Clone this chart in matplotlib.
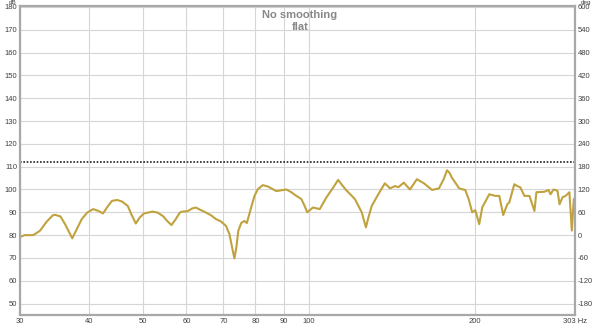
import numpy as np
import matplotlib
matplotlib.use("Agg")
from matplotlib import pyplot as plt

plt.rcParams["axes.unicode_minus"] = False
plt.rcParams["font.family"] = ["Liberation Sans", "DejaVu Sans"]

# Frequency response (Hz, dB)
freq_hz = [30.0, 30.6, 31.7, 32.6, 33.5, 34.4, 34.7, 35.5, 36.2, 37.3,
           38.0, 38.8, 39.7, 40.7, 41.6, 42.4, 43.1, 44.0, 45.0, 45.9,
           47.0, 47.7, 48.6, 49.4, 50.3, 52.1, 53.2, 54.4, 55.4, 56.4,
           57.4, 58.4, 59.0, 60.3, 61.5, 62.4, 63.7, 65.1, 66.5, 67.9,
           69.3, 70.8, 71.8, 72.6, 73.3, 73.9, 74.5, 75.4, 76.4, 77.2,
           78.6, 79.7, 80.8, 82.5, 84.3, 87.3, 91.0, 92.9, 94.9, 96.9,
           98.2, 99.3, 101.7, 104.6, 107.6, 110.6, 112.9, 114.5, 116.5, 121.1,
           124.6, 126.8, 128.1, 129.9, 133.5, 137.2, 140.2, 143.2, 145.1, 147.3,
           148.5, 152.3, 156.8, 161.5, 167.0, 171.9, 175.3, 177.8, 179.5, 181.6,
           187.0, 189.3, 191.8, 194.6, 197.4, 200.0, 203.3, 205.9, 212.0, 217.3,
           221.0, 224.7, 228.5, 230.5, 235.3, 238.3, 241.3, 245.4, 250.6, 255.9,
           258.0, 266.8, 271.3, 273.6, 277.1, 281.7, 284.1, 287.7, 291.4, 296.0,
           299.0, 301.5, 303.0]
spl_db = [79.2, 80.0, 80.0, 81.9, 85.8, 88.7, 88.9, 88.2, 84.8, 78.6,
          82.6, 87.0, 89.9, 91.4, 90.6, 89.5, 92.1, 95.0, 95.4, 94.7,
          92.8, 89.2, 85.1, 87.7, 89.5, 90.3, 89.9, 88.4, 86.2, 84.4,
          87.0, 89.9, 90.3, 90.5, 91.7, 92.1, 91.0, 89.9, 88.7, 87.0,
          86.0, 84.0, 80.4, 74.6, 69.8, 74.6, 81.9, 85.3, 86.2, 85.3,
          92.1, 97.2, 100.1, 101.9, 101.3, 99.3, 100.0, 98.8, 97.2, 95.8,
          92.8, 90.0, 92.1, 91.4, 96.6, 100.8, 104.2, 102.3, 100.0, 95.8,
          90.0, 83.4, 87.7, 92.8, 97.9, 102.7, 100.5, 101.5, 101.0, 102.3,
          103.0, 100.0, 104.5, 102.7, 99.8, 100.5, 104.5, 108.4, 107.4, 105.0,
          100.5, 100.1, 99.8, 95.7, 90.0, 90.9, 84.8, 92.2, 97.9, 97.2,
          97.2, 88.8, 93.5, 94.4, 102.3, 101.5, 100.9, 97.2, 97.2, 90.6,
          98.8, 99.0, 99.8, 97.9, 100.0, 99.4, 93.5, 96.6, 97.2, 98.8,
          82.0, 95.8, 96.2]

ref_level = 112.2  # dotted target line
x_ticks = [30, 40, 50, 60, 70, 80, 90, 100, 200, 303]
x_labels = ["30", "40", "50", "60", "70", "80", "90", "100", "200", "303 Hz"]
db_ticks = list(range(50, 181, 10))
deg_ticks = list(range(-180, 601, 60))

ylo, yhi = 45.0, 180.4

fig = plt.figure(figsize=(6, 3.27), dpi=100)
ax = fig.add_axes([20 / 600, 1 - 315 / 327, 555 / 600, 309 / 327])

ax.set_xscale("log")
ax.set_xlim(30, 303)
ax.set_ylim(ylo, yhi)

ax.set_xticks(x_ticks)
ax.set_xticklabels(x_labels)
ax.minorticks_off()
ax.set_yticks(db_ticks)
ax.grid(True, color="#d6d6d6", lw=0.8)
ax.set_axisbelow(True)
ax.tick_params(length=0, labelsize=5.5, labelcolor="#404040", pad=2)

for s in ax.spines.values():
    s.set_color("#a8a8a8")
    s.set_linewidth(1.6)

# Right hand phase axis
ax2 = ax.twinx()
ax2.set_ylim((ylo - 80) * 6, (yhi - 80) * 6)
ax2.set_yticks(deg_ticks)
ax2.tick_params(length=0, labelsize=5.5, labelcolor="#404040", pad=2)
for s in ax2.spines.values():
    s.set_visible(False)

ax.axhline(ref_level, color="#202020", lw=1.2, ls=(0, (1, 1)))
ax.plot(freq_hz, spl_db, color="#c0a23e", lw=1.5, solid_joinstyle="round")

fig.text(13 / 600, 1.0, "dB", fontsize=4.5, color="#404040", ha="center", va="top")
fig.text(586 / 600, 1.0, "deg", fontsize=4.5, color="#404040", ha="center", va="top")

fig.text(300 / 600, 1 - 15 / 327, "No smoothing", fontsize=8, color="#888888",
         ha="center", va="center", fontweight="bold")
fig.text(300 / 600, 1 - 27 / 327, "flat", fontsize=8, color="#888888",
         ha="center", va="center", fontweight="bold")

fig.savefig("out.png", dpi=100)
